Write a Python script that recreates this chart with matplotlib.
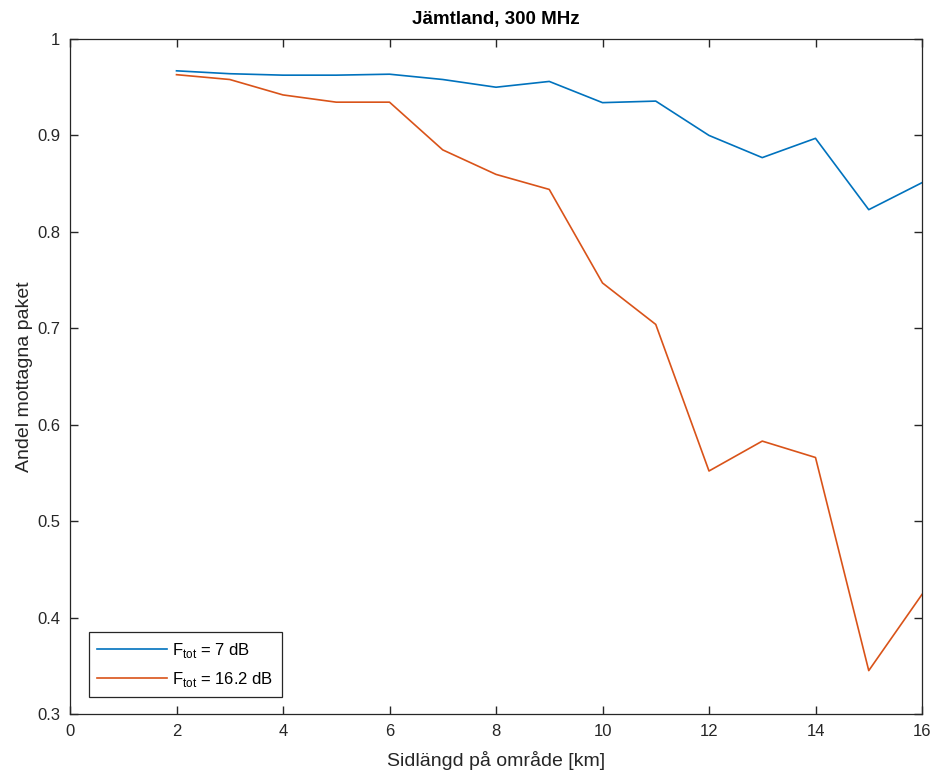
import numpy as np
import matplotlib
matplotlib.use('Agg')
import matplotlib.pyplot as plt

# sidlängd [km]
x_km = [2, 3, 4, 5, 6, 7, 8, 9, 10, 11, 12, 13, 14, 15, 16]
# andel mottagna paket
ftot_7 = [0.967, 0.964, 0.9625, 0.9625, 0.9635, 0.958, 0.950, 0.956, 0.934,
          0.9356, 0.900, 0.877, 0.897, 0.823, 0.851]
ftot_16 = [0.963, 0.958, 0.942, 0.9345, 0.9345, 0.885, 0.8596, 0.844, 0.747,
           0.704, 0.552, 0.583, 0.566, 0.345, 0.424]
labels = ['F$_\\mathregular{tot}$ = 7 dB', 'F$_\\mathregular{tot}$ = 16.2 dB']

plt.rcParams['font.family'] = ['Liberation Sans', 'DejaVu Sans']
ax_col = '#262626'

fig = plt.figure(figsize=(9.38, 7.74), dpi=100)
ax = fig.add_axes([70/938, 1-714/774, (922-70)/938, (714-39)/774])

ax.plot(x_km, ftot_7, color='#0072BD', lw=1.2, label=labels[0])
ax.plot(x_km, ftot_16, color='#D95319', lw=1.2, label=labels[1])

ax.set_xlim(0, 16)
ax.set_ylim(0.3, 1)
ax.set_xticks(np.arange(0, 17, 2))
ax.set_yticks(np.arange(0.3, 1.01, 0.1))
ax.set_yticklabels(['0.3', '0.4', '0.5', '0.6', '0.7', '0.8', '0.9', '1'])
ax.tick_params(direction='in', top=True, right=True, length=6, width=1,
               labelsize=12, colors=ax_col, pad=7)
for s in ax.spines.values():
    s.set_color(ax_col)
    s.set_linewidth(0.9)

ax.set_xlabel('Sidlängd på område [km]', fontsize=14, color=ax_col, labelpad=9)
ax.set_ylabel('Andel mottagna paket', fontsize=14, color=ax_col, labelpad=3)
ax.set_title('Jämtland, 300 MHz', fontsize=13.5, fontweight='bold', color='black', pad=11)

leg = ax.legend(loc='lower left', bbox_to_anchor=(0.022, 0.025), fontsize=12,
                fancybox=False, framealpha=1, edgecolor=ax_col,
                handlelength=4.2, handletextpad=0.3, borderpad=0.5,
                labelspacing=0.6, borderaxespad=0)
leg.get_frame().set_linewidth(0.9)

fig.savefig('out.png', dpi=100)
